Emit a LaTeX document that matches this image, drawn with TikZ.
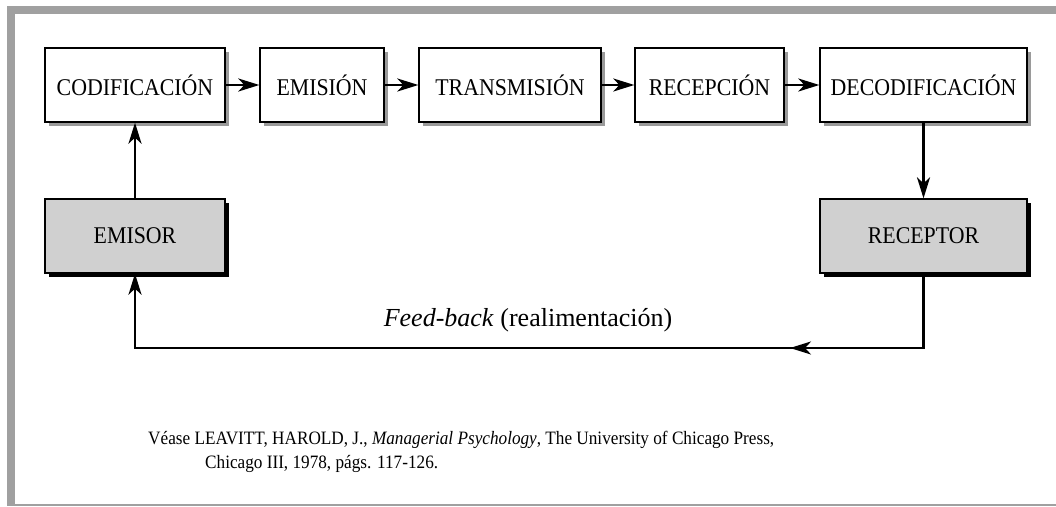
\documentclass[tikz,border=0pt]{standalone}
\usepackage{fontspec}
\setmainfont{Liberation Serif}
\newfontfamily\boxfont[FakeStretch=0.91]{Liberation Serif}
\usetikzlibrary{arrows.meta,shadows}
\definecolor{framegray}{HTML}{A0A0A0}
\definecolor{shadowgray}{HTML}{9A9A9A}
\definecolor{agentfill}{HTML}{D0D0D0}
\begin{document}
\begin{tikzpicture}[x=1pt,y=-1pt,
  boxtext/.style={font=\boxfont\fontsize{24}{28}\selectfont},
  stage/.style={boxtext,draw=black,line width=1.3pt,fill=white,
    minimum height=74pt,inner sep=0pt,
    drop shadow={shadow xshift=4pt,shadow yshift=-4pt,fill=shadowgray,opacity=1}},
  agent/.style={boxtext,draw=black,line width=1.3pt,fill=agentfill,
    minimum height=74pt,inner sep=0pt,
    drop shadow={shadow xshift=4pt,shadow yshift=-4pt,fill=black,opacity=1}},
  arr/.style={-{Stealth[length=21pt,width=13pt,inset=6pt]},line width=2.5pt}]
  \useasboundingbox (0,0) rectangle (1056,506);
  % frame
  \fill[framegray] (7,6) rectangle (1056,14);
  \fill[framegray] (7,6) rectangle (15,506);
  \fill[framegray] (7,503.5) rectangle (1056,506);
  % stages of the message
  \node[stage,minimum width=180pt] (cod) at (135,85) {CODIFICACIÓN};
  \node[stage,minimum width=124pt] (emi) at (322,85) {EMISIÓN};
  \node[stage,minimum width=182pt] (tra) at (510,85) {TRANSMISIÓN};
  \node[stage,minimum width=149pt] (rec) at (709.5,85) {RECEPCIÓN};
  \node[stage,minimum width=207pt] (dec) at (923.5,85) {DECODIFICACIÓN};
  % agents
  \node[agent,minimum width=180pt] (emisor) at (135,236) {EMISOR};
  \node[agent,minimum width=207pt] (receptor) at (923.5,236) {RECEPTOR};
  % chain
  \draw[arr] (cod) -- (emi);
  \draw[arr] (emi) -- (tra);
  \draw[arr] (tra) -- (rec);
  \draw[arr] (rec) -- (dec);
  \draw[arr] (emisor) -- (cod);
  \draw[arr] (dec) -- (receptor);
  % feedback loop
  \coordinate (fr) at (923.5,348);
  \coordinate (fl) at (135,348);
  \coordinate (fm) at (790,348);
  \draw[arr,line join=miter] (receptor.south) -- (fr) -- (fl) -- (emisor.south);
  \draw[arr] (fr) -- (fm);
  \node[font=\fontsize{26}{30}\selectfont] (fb) at (528,320) {\textit{Feed-back} (realimentación)};
  % reference
  \node[anchor=west,inner sep=0pt,font=\boxfont\fontsize{18.9}{24}\selectfont,align=left] (ref) at (148,452)
    {Véase LEAVITT, HAROLD, J., \textit{Managerial Psychology}, The University of Chicago Press,\\
     \hspace*{57pt}Chicago III, 1978, págs. 117-126.};
\end{tikzpicture}
\end{document}
